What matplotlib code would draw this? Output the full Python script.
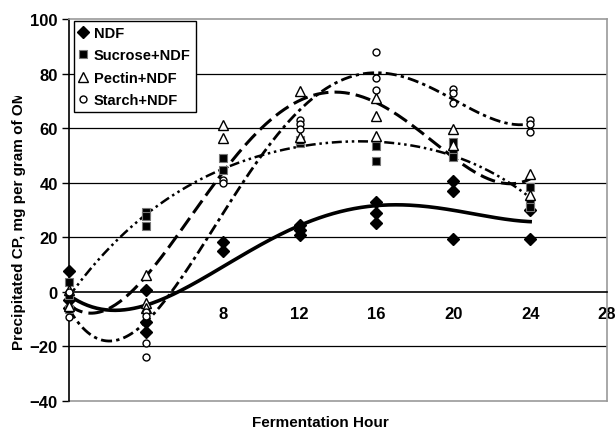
import numpy as np
import matplotlib
matplotlib.use("Agg")
import matplotlib.pyplot as plt
from matplotlib.lines import Line2D
from matplotlib.transforms import Bbox

plt.rcParams['font.family'] = ['Liberation Sans', 'DejaVu Sans']
plt.rcParams['font.weight'] = 'bold'

# replicate values (hour, precipitated CP)
ndf_h = [0, 0, 0, 4, 4, 4, 8, 8, 12, 12, 12, 16, 16, 16, 20, 20, 20, 24, 24]
ndf_v = [7.6, -3, -6, 0.7, -11, -14.7, 18.2, 14.8, 24.5, 22.7, 20.9,
         33, 29, 25.4, 40.7, 37.1, 19.3, 30, 19.5]

suc_h = [0, 0, 0, 4, 4, 4, 8, 8, 12, 12, 16, 16, 20, 20, 20, 24, 24, 24]
suc_v = [3.5, -1.3, -6.2, 29.4, 27.7, 24, 49, 44.5, 54.6, 55.5, 53.4, 47.8,
         54.9, 51, 49.6, 38.3, 33, 31]

pec_h = [0, 0, 4, 4, 4, 8, 8, 12, 12, 16, 16, 16, 20, 20, 24, 24]
pec_v = [0.5, -5, 6, -4, -6, 61, 56.3, 73.7, 56.8, 70.9, 64.5, 57.3,
         59.8, 53.9, 43.3, 35.5]

sta_h = [0, 0, 4, 4, 4, 4, 8, 8, 12, 12, 12, 16, 16, 16, 20, 20, 20, 24, 24, 24]
sta_v = [-0.1, -9.2, -7.2, -8.7, -18.7, -24, 41, 40, 63.1, 61.5, 59.8,
         88, 78.4, 73.8, 74.5, 73, 69.3, 63.1, 61.4, 58.5]

labels = ["NDF", "Sucrose+NDF", "Pectin+NDF", "Starch+NDF"]
x_ticks = [8, 12, 16, 20, 24, 28]
y_ticks = [-40, -20, 0, 20, 40, 60, 80, 100]

fig = plt.figure(figsize=(6.15, 4.35), dpi=100)
ax = fig.add_axes([69 / 615, 1 - 402 / 435, (607 - 69) / 615, (402 - 20) / 435])

ax.set_xlim(0, 28)
ax.set_ylim(-40, 100)

# gridlines
for g in [80, 60, 40, 20, -20]:
    ax.axhline(g, color='black', lw=0.9, zorder=1)

# 4th order polynomial trendlines, as in the spreadsheet
xs = np.linspace(0, 24, 200)
series = [
    (ndf_h, ndf_v, dict(marker='D', ms=6, mfc='black', mec='black'),
     dict(ls='-', lw=2.6)),
    (suc_h, suc_v, dict(marker='s', ms=5.5, mfc='black', mec='#777777', mew=0.8),
     dict(ls=(0, (4, 1.5, 1, 1.5, 1, 1.5)), lw=1.8)),
    (pec_h, pec_v, dict(marker='^', ms=7, mfc='white', mec='black', mew=1),
     dict(ls=(0, (5, 2)), lw=2.2)),
    (sta_h, sta_v, dict(marker='o', ms=5, mfc='white', mec='black', mew=1),
     dict(ls=(0, (4, 1.5, 1.2, 1.5)), lw=2.0)),
]
handles = []
for h, v, mk, ln in series:
    coef = np.polyfit(h, v, 4)
    ax.plot(xs, np.polyval(coef, xs), color='black', zorder=3, **ln)
for (h, v, mk, ln), lab in zip(series, labels):
    ax.plot(h, v, ls='none', zorder=4, clip_on=False, **mk)
    handles.append(Line2D([], [], ls='none', label=lab, **mk))

# frame: left axis black, others grey; x axis crosses at 0
ax.spines['left'].set_color('black')
ax.spines['left'].set_linewidth(1.2)
for s in ['top', 'right']:
    ax.spines[s].set_color('#999999')
    ax.spines[s].set_linewidth(1.2)
ax.spines['bottom'].set_position(('data', 0))
ax.spines['bottom'].set_color('black')
ax.spines['bottom'].set_linewidth(1.2)
ax.axhline(-40, color='#999999', lw=1.2, zorder=2, clip_on=False)

ax.set_xticks(x_ticks)
ax.set_yticks(y_ticks)
ax.tick_params(axis='x', length=0, pad=10, labelsize=12)
ax.tick_params(axis='y', direction='out', length=5, width=1, pad=3, labelsize=12)
for t in ax.get_xticklabels() + ax.get_yticklabels():
    t.set_fontweight('bold')

leg = ax.legend(handles=handles, loc='upper left', bbox_to_anchor=(0.009, 0.995),
                frameon=True, fancybox=False, edgecolor='black', framealpha=1,
                prop={'weight': 'bold', 'size': 10.5}, handlelength=0.6,
                handletextpad=0.4, labelspacing=0.58, borderpad=0.35,
                borderaxespad=0)
leg.get_frame().set_linewidth(1.0)

ylab = fig.text(19 / 615, 1 - 350 / 435, "Precipitated CP, mg per gram of OM",
                rotation=90, ha='center', va='bottom', fontsize=11,
                fontweight='bold')
fig.text(320 / 615, 1 - 423 / 435, "Fermentation Hour", ha='center', va='center',
         fontsize=11, fontweight='bold')

# the axis title is cut off part way through the last letter in the original
fig.canvas.draw()
bb = ylab.get_window_extent()
ylab.set_clip_box(Bbox([[bb.x0 - 2, bb.y0 - 2], [bb.x1 + 2, bb.y1 - 6]]))
ylab.set_clip_on(True)

fig.savefig("out.png", dpi=100)
